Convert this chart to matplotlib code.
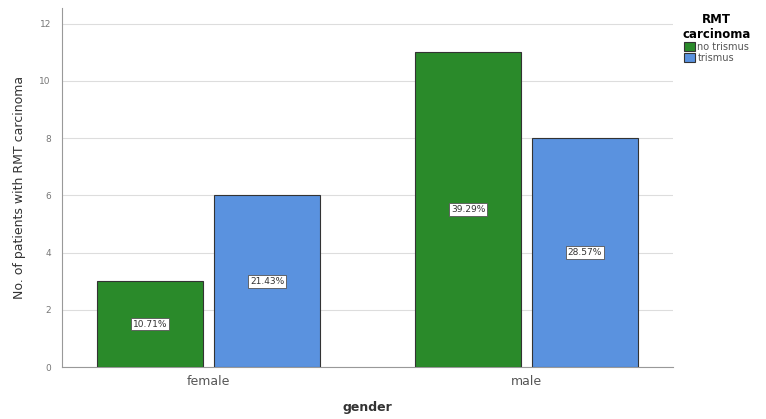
import numpy as np
import matplotlib
matplotlib.use('Agg')
import matplotlib.pyplot as plt

genders = ['female', 'male']
series = ['no trismus', 'trismus']
no_trismus = [3, 11]
trismus = [6, 8]
pct_no = ['10.71%', '39.29%']
pct_tri = ['21.43%', '28.57%']
colors = ['#2a8a2a', '#5a92df']

fig = plt.figure(figsize=(7.66, 4.19), dpi=100)
ax = fig.add_axes([0.081, 0.124, 0.798, 0.857])

x = np.arange(len(genders))
w = 0.334
off = 0.184
b1 = ax.bar(x - off, no_trismus, w, color=colors[0], edgecolor='#333333', linewidth=0.8,
            label=series[0], zorder=3)
b2 = ax.bar(x + off, trismus, w, color=colors[1], edgecolor='#333333', linewidth=0.8,
            label=series[1], zorder=3)

box = dict(boxstyle='square,pad=0.2', fc='white', ec='#555555', lw=0.6)
for bars, labs in [(b1, pct_no), (b2, pct_tri)]:
    for r, lab in zip(bars, labs):
        ax.text(r.get_x() + r.get_width() / 2, r.get_height() / 2, lab,
                ha='center', va='center', fontsize=6.5, color='#333333', bbox=box, zorder=4)

ax.set_xlim(-0.462, 1.462)
ax.set_ylim(0, 12.55)
ax.set_yticks(range(0, 13, 2))
ax.set_xticks(x)
ax.set_xticklabels(genders, fontsize=9, color='#555555')
ax.tick_params(axis='y', labelsize=6.5, colors='#777777', length=0, pad=8)
ax.tick_params(axis='x', length=0, pad=6)
ax.yaxis.grid(True, color='#dddddd', linewidth=0.8, zorder=0)
ax.set_axisbelow(True)
for s in ['top', 'right']:
    ax.spines[s].set_visible(False)
for s in ['left', 'bottom']:
    ax.spines[s].set_color('#999999')

ax.set_ylabel('No. of patients with RMT carcinoma', fontsize=9, color='#333333', labelpad=10)
ax.set_xlabel('gender', fontsize=9, fontweight='bold', color='#333333', labelpad=9)

leg = fig.legend(handles=[b1, b2], labels=series, title='RMT\ncarcinoma',
                 loc='upper left', bbox_to_anchor=(0.882, 0.985), frameon=False,
                 fontsize=7, title_fontsize=8.5, handlelength=1.1, handleheight=1.1,
                 handletextpad=0.3, labelspacing=0.1, borderpad=0.2)
leg.get_title().set_fontweight('bold')
leg.get_title().set_multialignment('center')
for t in leg.get_texts():
    t.set_color('#555555')

fig.savefig('out.png', dpi=100)
